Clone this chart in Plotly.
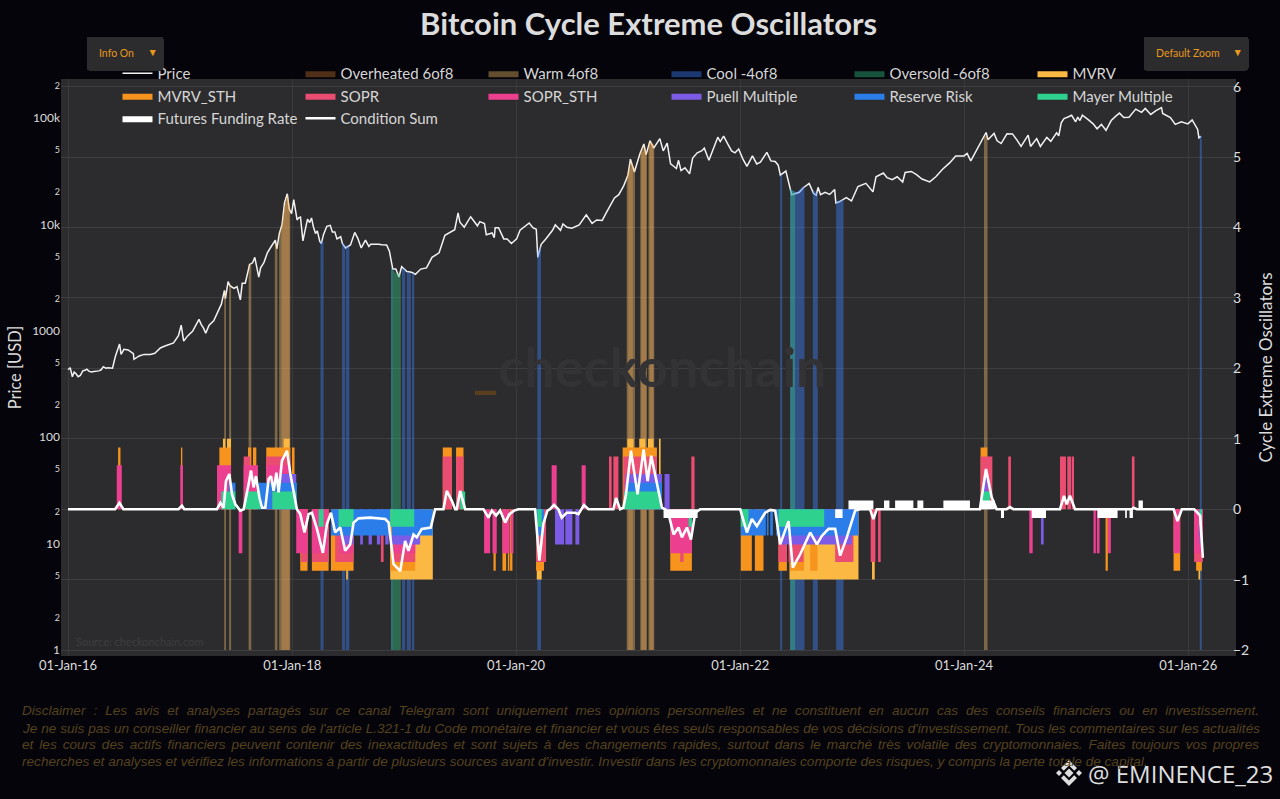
import pandas as pd
import plotly.graph_objects as go

# precio BTC (fecha, USD)
PRICE = [
    ("2016-01-01", 430), ("2016-01-08", 450), ("2016-01-15", 370), ("2016-01-21", 410), ("2016-01-27", 395), ("2016-02-03", 370),
    ("2016-02-10", 380), ("2016-02-18", 420), ("2016-02-25", 425), ("2016-03-02", 435), ("2016-03-10", 415), ("2016-03-18", 410),
    ("2016-03-25", 415), ("2016-04-10", 420), ("2016-04-18", 430), ("2016-04-25", 460), ("2016-05-03", 445), ("2016-05-10", 450),
    ("2016-05-25", 445), ("2016-06-03", 570), ("2016-06-12", 680), ("2016-06-17", 750), ("2016-06-22", 600),
    ("2016-07-01", 670), ("2016-07-15", 660), ("2016-08-01", 610), ("2016-08-03", 540), ("2016-08-20", 580),
    ("2016-09-05", 600), ("2016-09-25", 600), ("2016-10-10", 615), ("2016-10-28", 690), ("2016-11-10", 715),
    ("2016-11-25", 740), ("2016-12-10", 770), ("2016-12-26", 900),
    ("2017-01-04", 1130), ("2017-01-12", 800), ("2017-01-25", 895), ("2017-02-10", 990), ("2017-02-25", 1180),
    ("2017-03-03", 1280), ("2017-03-10", 1150), ("2017-03-17", 1070), ("2017-03-25", 950), ("2017-04-05", 1130),
    ("2017-04-20", 1240), ("2017-05-05", 1540), ("2017-05-15", 1780), ("2017-05-25", 2400), ("2017-05-28", 2000),
    ("2017-06-06", 2900), ("2017-06-12", 2650), ("2017-06-25", 2500), ("2017-07-05", 2600), ("2017-07-16", 1950),
    ("2017-07-22", 2800), ("2017-08-01", 2800), ("2017-08-15", 4200), ("2017-08-25", 4350), ("2017-09-01", 4900),
    ("2017-09-14", 3200), ("2017-09-20", 3900), ("2017-10-01", 4400), ("2017-10-12", 5400), ("2017-10-20", 5900),
    ("2017-11-07", 7100), ("2017-11-12", 5900), ("2017-11-20", 8200), ("2017-11-29", 10000), ("2017-12-07", 16000),
    ("2017-12-16", 19400), ("2017-12-22", 14000), ("2017-12-30", 12600),
    ("2018-01-06", 17100), ("2018-01-17", 11000), ("2018-01-22", 11500), ("2018-01-28", 11700), ("2018-02-05", 7000), ("2018-02-12", 8800), ("2018-02-20", 11200),
    ("2018-02-27", 10400), ("2018-03-05", 11500), ("2018-03-11", 9500), ("2018-03-18", 8200), ("2018-03-24", 8700), ("2018-04-01", 6900), ("2018-04-06", 6600), ("2018-04-13", 8000), ("2018-04-24", 9600),
    ("2018-05-05", 9800), ("2018-05-12", 8500), ("2018-05-20", 8500), ("2018-05-27", 7300), ("2018-06-01", 7500), ("2018-06-08", 7650), ("2018-06-14", 6600), ("2018-06-24", 6000),
    ("2018-07-10", 6400), ("2018-07-24", 8400), ("2018-08-03", 7400), ("2018-08-14", 6000), ("2018-08-28", 7100), ("2018-09-08", 6200), ("2018-09-14", 6500),
    ("2018-09-20", 6500), ("2018-10-01", 6600), ("2018-10-10", 6500), ("2018-10-20", 6450), ("2018-11-05", 6400), ("2018-11-14", 5600), ("2018-11-25", 3800),
    ("2018-12-05", 3800), ("2018-12-15", 3200), ("2018-12-24", 4000),
    ("2019-01-10", 3600), ("2019-01-25", 3550), ("2019-02-07", 3400), ("2019-02-24", 3800), ("2019-03-15", 3900), ("2019-04-02", 4900),
    ("2019-04-25", 5400), ("2019-05-14", 7900), ("2019-06-01", 8500), ("2019-06-15", 8900), ("2019-06-26", 12800),
    ("2019-07-02", 10500), ("2019-07-16", 9400), ("2019-08-06", 11800), ("2019-08-28", 9700), ("2019-09-05", 10600), ("2019-09-20", 10200),
    ("2019-09-26", 8000), ("2019-10-15", 8300), ("2019-10-22", 7500), ("2019-10-25", 9300), ("2019-11-05", 9300), ("2019-11-22", 7300), ("2019-12-03", 7300), ("2019-12-17", 6600),
    ("2020-01-03", 7300), ("2020-01-14", 8800), ("2020-01-30", 9500), ("2020-02-13", 10300), ("2020-02-25", 9300), ("2020-03-07", 9000), ("2020-03-12", 4900), ("2020-03-23", 6500),
    ("2020-04-07", 7300), ("2020-04-29", 8800), ("2020-05-08", 9900), ("2020-05-25", 8800), ("2020-06-02", 10100), ("2020-06-15", 9400),
    ("2020-07-01", 9200), ("2020-07-25", 9900), ("2020-08-17", 12300), ("2020-09-05", 10200), ("2020-09-20", 11000), ("2020-10-08", 10900),
    ("2020-10-21", 12800), ("2020-11-05", 15500), ("2020-11-17", 17700), ("2020-12-01", 19000), ("2020-12-17", 23000),
    ("2020-12-31", 29000),
    ("2021-01-08", 41000), ("2021-01-21", 31000), ("2021-02-08", 46000), ("2021-02-21", 57000), ("2021-02-28", 45000),
    ("2021-03-13", 61000), ("2021-03-25", 52000), ("2021-04-14", 64000), ("2021-04-25", 49000), ("2021-05-08", 58000),
    ("2021-05-19", 37000), ("2021-05-30", 35000), ("2021-06-07", 33500), ("2021-06-14", 40000), ("2021-06-22", 32000), ("2021-07-05", 34000),
    ("2021-07-20", 29800), ("2021-07-30", 42000), ("2021-08-14", 47000), ("2021-08-28", 49000), ("2021-09-06", 52000), ("2021-09-21", 40000), ("2021-10-05", 51000), ("2021-10-20", 66000), ("2021-10-28", 60000),
    ("2021-11-08", 67500), ("2021-11-20", 58000), ("2021-12-04", 49000), ("2021-12-15", 47000), ("2021-12-27", 51000),
    ("2022-01-10", 41000), ("2022-01-23", 35000), ("2022-02-10", 44000), ("2022-02-24", 37000), ("2022-03-08", 38500), ("2022-03-29", 47500), ("2022-04-11", 39500), ("2022-04-25", 39000),
    ("2022-05-05", 36000), ("2022-05-12", 29000), ("2022-05-30", 31700), ("2022-06-13", 22500), ("2022-06-18", 19000), ("2022-07-13", 20000), ("2022-07-25", 22000),
    ("2022-08-14", 24300), ("2022-08-28", 19600), ("2022-09-06", 18800), ("2022-09-12", 22300), ("2022-09-20", 19000), ("2022-10-05", 20000), ("2022-10-20", 19100),
    ("2022-11-05", 21300), ("2022-11-09", 15900), ("2022-11-20", 16300), ("2022-12-13", 17800), ("2022-12-30", 16600),
    ("2023-01-20", 22700), ("2023-02-15", 24300), ("2023-03-10", 20200), ("2023-03-20", 28000), ("2023-04-13", 30400), ("2023-04-25", 27500),
    ("2023-05-12", 26300), ("2023-05-28", 28000), ("2023-06-15", 25000), ("2023-06-23", 30700), ("2023-07-13", 31400), ("2023-07-30", 29300), ("2023-08-17", 26700),
    ("2023-09-11", 25100), ("2023-10-01", 28000), ("2023-10-23", 33000), ("2023-11-15", 37800), ("2023-12-05", 44000),
    ("2024-01-01", 44000), ("2024-01-11", 46500), ("2024-01-23", 39500), ("2024-02-14", 51800), ("2024-02-28", 62500),
    ("2024-03-13", 73000), ("2024-03-19", 62500), ("2024-04-08", 71500), ("2024-04-18", 61000), ("2024-05-01", 57500), ("2024-05-20", 71000),
    ("2024-06-07", 70800), ("2024-06-24", 60500), ("2024-07-05", 54000), ("2024-07-28", 69000), ("2024-08-05", 54000), ("2024-08-25", 64000),
    ("2024-09-06", 54000), ("2024-09-27", 65700), ("2024-10-10", 60300), ("2024-10-29", 72500), ("2024-11-05", 68000),
    ("2024-11-13", 90000), ("2024-11-22", 98500), ("2024-12-05", 102000), ("2024-12-17", 106000), ("2024-12-30", 92000),
    ("2025-01-06", 102000), ("2025-01-13", 94500), ("2025-01-21", 106000), ("2025-02-10", 96000), ("2025-02-25", 88000),
    ("2025-03-10", 79000), ("2025-03-24", 87000), ("2025-04-08", 76500), ("2025-04-25", 94500), ("2025-05-10", 104000),
    ("2025-05-22", 111000), ("2025-06-05", 101000), ("2025-06-22", 101500), ("2025-07-14", 121000), ("2025-08-02", 113000),
    ("2025-08-14", 123000), ("2025-09-01", 108000), ("2025-09-18", 117000), ("2025-10-06", 125000), ("2025-10-10", 110000),
    ("2025-11-04", 101000), ("2025-11-20", 87000), ("2025-12-10", 92000), ("2025-12-31", 88000),
    ("2026-01-14", 96000), ("2026-02-01", 78000), ("2026-02-05", 65000), ("2026-02-12", 67000),
]

# condition sum (año decimal, valor)
CONDITION_SUM = [
    (2016.0, 0), (2016.42, 0), (2016.459, .09), (2016.494, 0), (2016.986, 0), (2017.015, .05), (2017.036, 0),
    (2017.328, 0), (2017.358, .09), (2017.387, .02), (2017.408, .40), (2017.438, .50), (2017.462, .21), (2017.492, .07),
    (2017.536, -.02), (2017.566, 0), (2017.611, .36), (2017.631, .55), (2017.655, .31), (2017.676, .47), (2017.706, .17),
    (2017.73, .02), (2017.759, .02), (2017.789, .43), (2017.81, .47), (2017.834, .26), (2017.858, .52), (2017.878, .24),
    (2017.908, .69), (2017.953, .83), (2017.983, .50), (2018.012, .26), (2018.042, 0), (2018.072, -.07), (2018.11, -.33),
    (2018.146, -.07), (2018.176, -.05), (2018.221, -.28), (2018.274, -.62), (2018.31, -.21), (2018.346, -.05),
    (2018.384, -.33), (2018.429, -.26), (2018.473, -.59), (2018.518, -.5), (2018.548, -.19), (2018.593, -.13),
    (2018.697, -.12), (2018.831, -.14), (2018.861, -.19), (2018.905, -.78), (2018.965, -.88), (2019.009, -.45),
    (2019.039, -.59), (2019.084, -.36), (2019.113, -.40), (2019.158, -.28), (2019.238, -.26), (2019.277, 0), (2019.351, 0),
    (2019.381, .26), (2019.426, .12), (2019.456, 0), (2019.47, 0), (2019.5, .26), (2019.545, 0), (2019.708, 0),
    (2019.753, -.12), (2019.783, -.02), (2019.821, -.09), (2019.857, -.02), (2019.902, -.19), (2019.94, -.07),
    (2019.982, -.02), (2020.021, 0), (2020.17, 0), (2020.208, -.73), (2020.244, -.21), (2020.28, -.02), (2020.304, 0),
    (2020.339, .06), (2020.378, 0), (2020.408, -.12), (2020.452, -.05), (2020.527, -.05), (2020.557, -.07), (2020.607, .06),
    (2020.646, 0), (2020.869, 0), (2020.893, .16), (2020.929, 0), (2020.958, .02), (2020.982, .21), (2021.024, .83),
    (2021.083, .21), (2021.137, .85), (2021.173, .40), (2021.205, .76), (2021.256, .36), (2021.301, .02), (2021.33, 0),
    (2021.36, -.07), (2021.405, -.36), (2021.449, -.26), (2021.479, -.40), (2021.524, -.26), (2021.56, -.43), (2021.598, -.05),
    (2021.643, 0), (2022.0, 0), (2022.06, -.33), (2022.104, -.14), (2022.149, -.24), (2022.223, -.05), (2022.268, -.01),
    (2022.313, -.02), (2022.357, -.50), (2022.432, -.17), (2022.47, -.83), (2022.536, -.64), (2022.625, -.33), (2022.685, -.50),
    (2022.729, -.38), (2022.789, -.28), (2022.848, -.28), (2022.893, -.66), (2022.952, -.40), (2023.027, -.02), (2023.071, 0),
    (2023.16, 0), (2023.19, -.14), (2023.22, 0), (2024.142, 0), (2024.196, .57), (2024.247, .17), (2024.291, 0), (2024.381, 0),
    (2024.41, .03), (2024.44, 0), (2024.857, 0), (2024.893, .19), (2024.917, .07), (2024.946, .19), (2024.991, 0),
    (2025.497, 0), (2025.512, .02), (2025.541, 0), (2025.869, 0), (2025.904, -.17), (2025.943, 0), (2026.053, 0),
    (2026.107, -.09), (2026.131, -.69),
]

# franjas de fondo: cada una es una lista de (año decimal, precio arriba)
OVERHEATED = [
    [(2017.905, 9500), (2017.93, 15000), (2017.96, 19000), (2017.975, 15000)],
    [(2021.0, 30000), (2021.04, 38000)],
    [(2021.115, 47000), (2021.16, 50000)],
    [(2021.19, 59000), (2021.225, 56000)],
]
WARM = [
    [(2017.392, 2300), (2017.408, 2400)],
    [(2017.436, 2800), (2017.454, 2700)],
    [(2017.61, 4100), (2017.634, 4300)],
    [(2017.844, 6800), (2017.868, 6400)],
    [(2017.883, 8000), (2017.91, 10000), (2017.935, 16000), (2017.958, 19200), (2017.982, 14000)],
    [(2020.988, 28500), (2021.02, 40000), (2021.06, 33000)],
    [(2021.107, 46000), (2021.135, 57000), (2021.167, 47000)],
    [(2021.18, 58000), (2021.2, 60000), (2021.232, 55000)],
    [(2024.178, 68000), (2024.21, 68000)],
]
COOL = [
    [(2018.253, 7000), (2018.28, 6800)],
    [(2018.444, 6700), (2018.473, 6400)],
    [(2018.48, 6300), (2018.51, 6200)],
    [(2018.884, 4000), (2018.895, 3800)],
    [(2018.98, 3900), (2019.01, 3800)],
    [(2019.024, 3600), (2019.06, 3450)],
    [(2019.07, 3450), (2019.09, 3500)],
    [(2020.19, 5400), (2020.223, 6300)],
    [(2022.357, 29000), (2022.375, 29500)],
    [(2022.446, 21500), (2022.5, 20000), (2022.574, 23000)],
    [(2022.649, 21000), (2022.693, 19500)],
    [(2022.857, 16500), (2022.923, 17000)],
    [(2026.104, 70000), (2026.122, 66000)],
]
OVERSOLD = [
    [(2018.884, 4000), (2018.92, 3500), (2018.97, 3400)],
    [(2022.446, 21500), (2022.49, 20000)],
]

# periodos activos de cada indicador (desde, hasta) en año decimal
MVRV_UP = [(2017.381, 2017.402), (2017.417, 2017.453), (2017.923, 2017.977), (2020.994, 2021.048), (2021.098, 2021.152),
           (2021.176, 2021.226), (2021.274, 2021.289)]
MVRV_DN = [(2018.482, 2018.497), (2018.875, 2019.256), (2020.185, 2020.229), (2022.44, 2023.057), (2023.178, 2023.202),
           (2026.092, 2026.107)]
MVRV_STH_UP = [(2016.447, 2016.468), (2017.006, 2017.018), (2017.349, 2017.453), (2017.605, 2017.634), (2017.649, 2017.679),
               (2017.768, 2017.983), (2017.997, 2018.021), (2019.345, 2019.426), (2019.464, 2019.53), (2020.952, 2021.256),
               (2024.148, 2024.208)]
MVRV_STH_DN = [(2018.072, 2018.137), (2018.176, 2018.325), (2018.346, 2018.548), (2018.875, 2019.099), (2019.798, 2019.818),
               (2019.878, 2019.911), (2019.926, 2019.94), (2019.946, 2019.967), (2020.179, 2020.25), (2021.375, 2021.568),
               (2022.006, 2022.104), (2022.131, 2022.208), (2022.342, 2022.417), (2022.446, 2022.571), (2022.625, 2022.69),
               (2025.262, 2025.282), (2025.869, 2025.928), (2026.071, 2026.122)]
SOPR_UP = [(2017.566, 2017.625), (2017.768, 2017.983), (2019.345, 2019.426), (2019.464, 2019.53), (2020.83, 2020.854),
           (2020.869, 2020.914), (2020.958, 2021.256), (2021.563, 2021.592), (2024.148, 2024.253), (2024.395, 2024.419),
           (2024.857, 2024.91), (2024.922, 2024.958), (2024.964, 2024.982), (2025.497, 2025.52)]
SOPR_DN = [(2018.078, 2018.137), (2018.176, 2018.325), (2018.384, 2018.548), (2018.792, 2018.816), (2018.905, 2019.099),
           (2020.179, 2020.268), (2021.464, 2021.494), (2022.342, 2022.417), (2022.432, 2022.565), (2022.848, 2023.012),
           (2023.166, 2023.208), (2023.232, 2023.255), (2026.053, 2026.131)]
SOPR_STH_UP = [(2016.435, 2016.48), (2017.0, 2017.024), (2017.328, 2017.453), (2017.566, 2017.694), (2017.768, 2017.983),
               (2020.318, 2020.363), (2020.586, 2020.622)]
SOPR_STH_DN = [(2017.521, 2017.554), (2018.036, 2018.137), (2018.176, 2018.325), (2018.429, 2018.548), (2018.905, 2019.099),
               (2019.714, 2019.768), (2019.789, 2019.827), (2019.878, 2019.94), (2019.952, 2019.976), (2021.375, 2021.568),
               (2024.583, 2024.613), (2025.154, 2025.175), (2025.184, 2025.208), (2025.282, 2025.309), (2025.869, 2025.928),
               (2026.053, 2026.131)]
PUELL_UP = [(2017.893, 2018.036), (2020.979, 2021.301), (2021.324, 2021.369), (2024.178, 2024.211)]
PUELL_DN = [(2018.444, 2018.548), (2018.607, 2018.631), (2018.682, 2018.712), (2018.756, 2018.786), (2018.831, 2018.861),
            (2018.89, 2019.143), (2020.348, 2020.429), (2020.44, 2020.503), (2020.53, 2020.565), (2022.357, 2022.997),
            (2024.687, 2024.711), (2026.101, 2026.122)]
RESERVE_UP = [(2017.432, 2017.492), (2017.7, 2017.825), (2017.834, 2018.042), (2020.979, 2021.301)]
RESERVE_DN = [(2018.346, 2018.875), (2018.89, 2019.256), (2020.179, 2020.25), (2022.006, 2022.229), (2022.238, 2022.253),
              (2022.268, 2022.292), (2022.321, 2023.057), (2026.101, 2026.122)]
MAYER_UP = [(2017.367, 2017.492), (2017.581, 2017.715), (2017.822, 2018.036), (2019.5, 2019.545), (2020.964, 2021.286),
            (2024.157, 2024.232)]
MAYER_DN = [(2018.236, 2018.28), (2018.414, 2018.548), (2018.875, 2019.09), (2020.19, 2020.229), (2021.539, 2021.568),
            (2022.006, 2022.074), (2022.342, 2022.75), (2026.101, 2026.122)]
FUNDING_UP = [(2022.967, 2023.19), (2023.285, 2023.333), (2023.384, 2023.547), (2023.583, 2023.636), (2023.815, 2024.053),
              (2024.142, 2024.276), (2025.556, 2025.595)]
FUNDING_DN = [(2021.315, 2021.619), (2022.848, 2022.914), (2024.33, 2024.357), (2024.604, 2024.732), (2025.19, 2025.369),
              (2025.437, 2025.452), (2025.476, 2025.506)]

DISCLAIMER = [
    "Disclaimer : Les avis et analyses partagés sur ce canal Telegram sont uniquement mes opinions personnelles et ne constituent en aucun cas des conseils financiers ou en investissement.",
    "Je ne suis pas un conseiller financier au sens de l'article L.321-1 du Code monétaire et financier et vous êtes seuls responsables de vos décisions d'investissement. Tous les commentaires sur les actualités",
    "et les cours des actifs financiers peuvent contenir des inexactitudes et sont sujets à des changements rapides, surtout dans le marché très volatile des cryptomonnaies. Faites toujours vos propres",
    "recherches et analyses et vérifiez les informations à partir de plusieurs sources avant d'investir. Investir dans les cryptomonnaies comporte des risques, y compris la perte totale de capital.",
]

FONT = "Lato"
PLOT_L, PLOT_R, PLOT_T, PLOT_B = 61, 1236, 79, 656


def to_date(y):
    year = int(y)
    return pd.Timestamp(year, 1, 1) + pd.Timedelta(days=(y - year) * 365.25)


def px(x):
    return (x - PLOT_L) / (PLOT_R - PLOT_L)


def py(y):
    return (PLOT_B - y) / (PLOT_B - PLOT_T)


# convierte periodos en poligonos desde cero hasta el nivel del indicador
def indicator_trace(name, up, dn, level, color):
    xs, ys = [], []
    for periods, value in ((up, level), (dn, -level)):
        for a, b in periods:
            xs += [to_date(a), to_date(a), to_date(b), to_date(b), None]
            ys += [0, value, value, 0, None]
    return go.Scatter(x=xs, y=ys, name=name, mode="lines", line=dict(width=0, color=color), fill="toself",
                      fillcolor=color, yaxis="y2", hoverinfo="skip")


def band_trace(name, bands, color):
    xs, ys = [], []
    for band in bands:
        t = [to_date(p[0]) for p in band]
        v = [p[1] for p in band]
        xs += [t[0]] + t + [t[-1], None]
        ys += [1] + v + [1, None]
    return go.Scatter(x=xs, y=ys, name=name, mode="lines", line=dict(width=0, color=color), fill="toself",
                      fillcolor=color, hoverinfo="skip")


fig = go.Figure()

fig.add_trace(go.Scatter(x=[p[0] for p in PRICE], y=[p[1] for p in PRICE], name="Price", mode="lines",
                         line=dict(color="#f2f2f2", width=1.5)))
fig.add_trace(band_trace("Overheated 6of8", OVERHEATED, "rgba(255,150,60,0.3)"))
fig.add_trace(band_trace("Warm 4of8", WARM, "rgba(255,200,110,0.38)"))
fig.add_trace(band_trace("Cool -4of8", COOL, "rgba(60,130,255,0.42)"))
fig.add_trace(band_trace("Oversold -6of8", OVERSOLD, "rgba(50,190,130,0.42)"))

fig.add_trace(indicator_trace("MVRV", MVRV_UP, MVRV_DN, 1.0, "#fbb843"))
fig.add_trace(indicator_trace("MVRV_STH", MVRV_STH_UP, MVRV_STH_DN, 0.875, "#f7941d"))
fig.add_trace(indicator_trace("SOPR", SOPR_UP, SOPR_DN, 0.75, "#ea4c72"))
fig.add_trace(indicator_trace("SOPR_STH", SOPR_STH_UP, SOPR_STH_DN, 0.625, "#ec3f90"))
fig.add_trace(indicator_trace("Puell Multiple", PUELL_UP, PUELL_DN, 0.5, "#7c5ce6"))
fig.add_trace(indicator_trace("Reserve Risk", RESERVE_UP, RESERVE_DN, 0.375, "#2b7de9"))
fig.add_trace(indicator_trace("Mayer Multiple", MAYER_UP, MAYER_DN, 0.25, "#2fd18e"))
fig.add_trace(indicator_trace("Futures Funding Rate", FUNDING_UP, FUNDING_DN, 0.125, "#ffffff"))

fig.add_trace(go.Scatter(x=[to_date(p[0]) for p in CONDITION_SUM], y=[p[1] for p in CONDITION_SUM], name="Condition Sum",
                         mode="lines", line=dict(color="#ffffff", width=2.6), yaxis="y2"))

annotations = [
    dict(text="<b>Bitcoin Cycle Extreme Oscillators</b>", x=px(648), y=py(23), font=dict(size=31, color="#dcdcdc", family=FONT)),
    dict(text="<b><span style='color:#5a3f1e'>_</span>checkonchain</b>", x=px(650), y=py(366),
         font=dict(size=54, color="#333335", family=FONT)),
    dict(text="Source: checkonchain.com", x=px(139), y=py(641), font=dict(size=11, color="#3c3c3e", family=FONT)),
    dict(text="@ EMINENCE_23", x=px(1180), y=py(773), font=dict(size=24, color="#dedede", family="Open Sans")),
]
for line, y in zip(DISCLAIMER, [710, 728, 744, 761]):
    annotations.append(dict(text="<i>" + line + "</i>", x=px(19.5), y=py(y), xanchor="left", align="left",
                            font=dict(size=13.6, color="#54421f", family="Liberation Sans")))
for a in annotations:
    a.update(xref="paper", yref="paper", showarrow=False, yanchor="middle")
    a.setdefault("xanchor", "center")

# logo a la izquierda del usuario
LOGO_CENTER = (1069, 773)
LOGO_PARTS = [
    [(-4.5, 0), (0, -4.5), (4.5, 0), (0, 4.5)],
    [(-13, 0), (-10, -3), (-7, 0), (-10, 3)],
    [(7, 0), (10, -3), (13, 0), (10, 3)],
    [(-8, -5), (0, -13), (8, -5), (5.2, -2.2), (0, -7.4), (-5.2, -2.2)],
    [(-8, 5), (0, 13), (8, 5), (5.2, 2.2), (0, 7.4), (-5.2, 2.2)],
]
shapes = []
for part in LOGO_PARTS:
    pts = ["%f %f" % (px(LOGO_CENTER[0] + dx), py(LOGO_CENTER[1] + dy)) for dx, dy in part]
    shapes.append(dict(type="path", xref="paper", yref="paper", path="M " + " L ".join(pts) + " Z",
                       fillcolor="#dedede", line=dict(width=0)))

menu_font = dict(color="#e8961e", size=10.5, family=FONT)
menus = [
    dict(type="dropdown", x=px(86), y=py(36), xanchor="left", yanchor="top", bgcolor="#2c2c2e", bordercolor="#2c2c2e",
         font=menu_font, pad=dict(t=0, l=0, r=0, b=0),
         buttons=[dict(label="Info On", method="skip"), dict(label="Off", method="skip")]),
    dict(type="dropdown", x=px(1143), y=py(36), xanchor="left", yanchor="top", bgcolor="#2c2c2e", bordercolor="#2c2c2e",
         font=menu_font, pad=dict(t=0, l=0, r=0, b=0),
         buttons=[dict(label="Default Zoom", method="skip"), dict(label="Full Range", method="skip")]),
]

fig.update_layout(
    width=1280, height=799,
    margin=dict(l=PLOT_L, r=1280 - PLOT_R, t=PLOT_T, b=799 - PLOT_B, autoexpand=False),
    paper_bgcolor="#05040a", plot_bgcolor="#2c2c2e",
    font=dict(family=FONT, color="#dcdcdc", size=13),
    showlegend=True,
    legend=dict(orientation="h", x=px(117.5), y=py(57), xanchor="left", yanchor="top", bgcolor="rgba(0,0,0,0)",
                font=dict(size=15, color="#d6d6d6", family=FONT), entrywidth=138, entrywidthmode="pixels", itemwidth=30),
    xaxis=dict(type="date", range=["2015-12-09", "2026-06-06"], tick0="2016-01-01", dtick="M24", tickformat="%d-%b-%y",
               showgrid=True, gridcolor="#3a3a3c", zeroline=False, ticks="", tickfont=dict(size=13)),
    yaxis=dict(type="log", range=[-0.056, 5.366], dtick="D2", showgrid=False, zeroline=False, ticks="",
               tickfont=dict(size=12), title=dict(text="Price [USD]", font=dict(size=16.5), standoff=6)),
    yaxis2=dict(overlaying="y", side="right", range=[-2.085, 6.11], dtick=1, showgrid=True, gridcolor="#3e3e40",
                zeroline=False, ticks="", tickfont=dict(size=14), ticklabelstandoff=-4,
                title=dict(text="Cycle Extreme Oscillators", font=dict(size=17), standoff=11)),
    annotations=annotations, shapes=shapes, updatemenus=menus,
)

# quita el margen de la pagina y justifica las tres primeras lineas del disclaimer
post = """
document.body.style.margin = '0';
document.querySelectorAll('.annotation-text').forEach(function (t) {
  var s = t.textContent;
  if (s.indexOf('Disclaimer') === 0 || s.indexOf('Je ne suis') === 0 || s.indexOf('et les cours') === 0) {
    var extra = (1237 - t.getComputedTextLength()) / (s.split(' ').length - 1);
    t.style.wordSpacing = extra + 'px';
  }
});
"""
fig.write_html("out.html", post_script=post, config=dict(displayModeBar=False))
